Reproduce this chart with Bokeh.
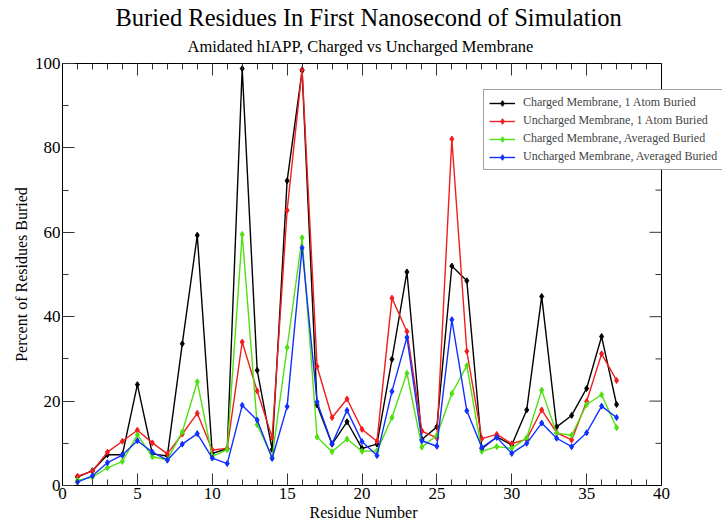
from bokeh.plotting import figure
from bokeh.models import Title, LinearAxis, SingleIntervalTicker, CustomJSTickFormatter, Span
from bokeh.embed import file_html
from bokeh.resources import INLINE

residues = list(range(1, 38))
charged_1atom = [2.0, 3.5, 7.3, 7.3, 23.9, 7.5, 7.0, 33.6, 59.3, 7.6, 8.7, 98.8, 27.3, 8.5, 72.2,
                 98.3, 19.1, 9.8, 15.1, 8.8, 9.8, 29.9, 50.6, 10.9, 13.9, 52.0, 48.5, 8.7, 11.5,
                 9.6, 17.9, 44.8, 13.9, 16.6, 23.0, 35.3, 19.2]
uncharged_1atom = [2.2, 3.4, 7.9, 10.5, 13.1, 10.1, 7.5, 12.2, 17.1, 8.4, 8.8, 34.0, 22.4, 11.4, 65.2,
                   98.6, 28.2, 16.1, 20.5, 13.3, 10.5, 44.4, 36.5, 12.9, 11.3, 82.1, 31.8, 11.1, 12.1,
                   9.9, 11.0, 17.9, 12.5, 10.8, 19.9, 31.2, 24.9]
charged_avg = [1.2, 2.0, 4.2, 5.7, 12.0, 6.8, 6.1, 12.7, 24.6, 6.9, 8.5, 59.5, 14.4, 6.7, 32.7,
               58.7, 11.5, 8.0, 11.0, 8.1, 8.2, 16.1, 26.6, 9.1, 11.9, 21.8, 28.4, 8.1, 9.2,
               8.8, 11.3, 22.6, 12.4, 11.9, 19.2, 21.5, 13.7]
uncharged_avg = [0.8, 2.3, 5.4, 7.2, 10.6, 7.9, 6.0, 9.8, 12.3, 6.5, 5.2, 19.0, 15.5, 6.4, 18.7,
                 56.3, 19.8, 9.9, 17.8, 10.4, 7.1, 22.3, 35.1, 10.6, 9.3, 39.3, 17.7, 9.0, 11.4,
                 7.6, 10.0, 14.8, 11.2, 9.2, 12.5, 18.8, 16.1]

series_names = ["Charged Membrane, 1 Atom Buried", "Uncharged Membrane, 1 Atom Buried",
                "Charged Membrane, Averaged Buried", "Uncharged Membrane, Averaged Buried"]
series_values = [charged_1atom, uncharged_1atom, charged_avg, uncharged_avg]
series_colors = ["#000000", "#f01e1e", "#4ee010", "#1030ff"]

X_MIN, X_MAX = 0, 40
Y_MIN, Y_MAX = 0, 100
right_major_ticks = list(range(0, 101, 20))
right_minor_ticks = list(range(10, 100, 20))

FONT = "Liberation Serif"
LEFT = 62
FRAME_W = 722 - LEFT
X_END = X_MAX * FRAME_W / 599.0   # x = 40 lands at 661 px, legend may run past it
PX = FRAME_W / X_END               # pixels per x unit

p = figure(width=722, height=523, x_range=(X_MIN, X_END), y_range=(Y_MIN, Y_MAX),
           output_backend="svg", toolbar_location=None,
           min_border_left=LEFT, min_border_right=0, min_border_top=63, min_border_bottom=38,
           y_axis_label="Percent of Residues Buried")

p.grid.visible = False
p.outline_line_color = None
p.background_fill_color = "white"
p.border_fill_color = "white"

xt = SingleIntervalTicker(interval=5, num_minor_ticks=5)
yt = SingleIntervalTicker(interval=20, num_minor_ticks=2)
p.xaxis.ticker = xt
p.yaxis.ticker = yt
p.xaxis.bounds = (X_MIN, X_MAX)

def style_ticks(ax):
    ax.major_tick_in = 12
    ax.major_tick_out = 0
    ax.minor_tick_in = 6
    ax.minor_tick_out = 0
    ax.major_tick_line_color = "#333333"
    ax.minor_tick_line_color = "#333333"
    ax.axis_line_color = "black"

for ax in (p.xaxis[0], p.yaxis[0]):
    style_ticks(ax)
    ax.major_label_text_font = FONT
    ax.major_label_text_font_size = "17px"
    ax.major_label_text_color = "black"
    ax.axis_label_text_font = FONT
    ax.axis_label_text_font_size = "16px"
    ax.axis_label_text_font_style = "normal"
    ax.axis_label_text_color = "black"
    ax.major_label_standoff = 2
    ax.axis_label_standoff = 2

top = LinearAxis(ticker=xt, formatter=CustomJSTickFormatter(code="return ''"), bounds=(X_MIN, X_MAX))
style_ticks(top)
top.major_label_standoff = 0
p.add_layout(top, "above")

# right edge of the frame at x = 40 with inward ticks
p.add_layout(Span(location=X_MAX, dimension="height", line_color="black", line_width=1))
p.segment(x0=[X_MAX] * len(right_major_ticks), y0=right_major_ticks,
          x1=[X_MAX - 12 / PX] * len(right_major_ticks), y1=right_major_ticks,
          line_color="#333333", line_width=1)
p.segment(x0=[X_MAX] * len(right_minor_ticks), y0=right_minor_ticks,
          x1=[X_MAX - 6 / PX] * len(right_minor_ticks), y1=right_minor_ticks,
          line_color="#333333", line_width=1)

# x axis label, centred under the 0..40 axis
p.add_layout(Title(text="Residue Number", align="left", offset=247,
                   text_font=FONT, text_font_size="16px", text_font_style="normal",
                   text_color="black", standoff=0), "below")

p.add_layout(Title(text="Amidated hIAPP, Charged vs Uncharged Membrane", align="left", offset=125,
                   text_font=FONT, text_font_size="16.5px", text_font_style="normal",
                   text_color="black", standoff=15), "above")
p.add_layout(Title(text="Buried Residues In First Nanosecond of Simulation", align="left", offset=53,
                   text_font=FONT, text_font_size="24.5px", text_font_style="normal",
                   text_color="black", standoff=-6), "above")

for name, vals, col in zip(series_names, series_values, series_colors):
    p.line(residues, vals, line_color=col, line_width=1.4, legend_label=name)
    p.scatter(residues, vals, marker="diamond", size=6, fill_color=col, line_color=col,
              legend_label=name)

lg = p.legend[0]
lg.location = (421, 315)
lg.label_text_font = FONT
lg.label_text_font_size = "12px"
lg.label_height = 14
lg.glyph_height = 14
lg.glyph_width = 26
lg.label_standoff = 8
lg.spacing = 3
lg.padding = 5
lg.margin = 0
lg.border_line_color = "#444444"
lg.border_line_width = 1
lg.background_fill_alpha = 1.0

open("out.html", "w").write(file_html(p, INLINE))
